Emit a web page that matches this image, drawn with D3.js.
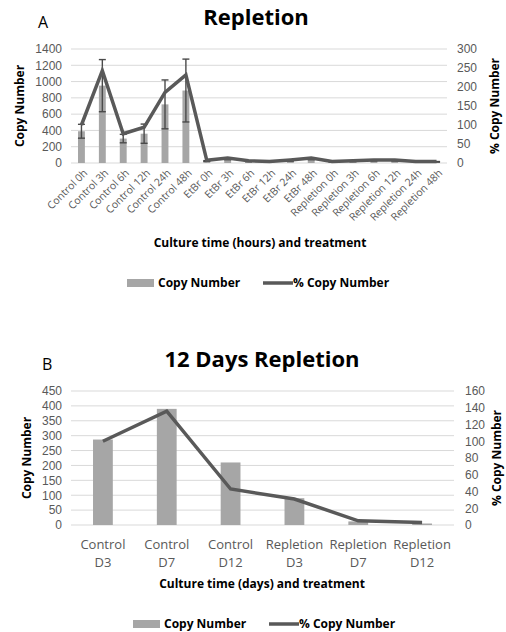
<!DOCTYPE html>
<html>
<head>
<meta charset="utf-8">
<script src="https://cdn.jsdelivr.net/npm/d3@7"></script>
<style>
  html, body { margin: 0; padding: 0; background: #fff; }
  svg { display: block; font-family: "Open Sans", "DejaVu Sans", sans-serif; }
</style>
</head>
<body>
<svg id="chart" width="506" height="632"></svg>
<script>
// Panel A: copy number over hours of culture
const hourCategories = ["Control 0h", "Control 3h", "Control 6h", "Control 12h", "Control 24h", "Control 48h",
  "EtBr 0h", "EtBr 3h", "EtBr 6h", "EtBr 12h", "EtBr 24h", "EtBr 48h",
  "Repletion 0h", "Repletion 3h", "Repletion 6h", "Repletion 12h", "Repletion 24h", "Repletion 48h"];
const hourCopyNumber = [390, 950, 300, 360, 720, 890, 25, 50, 22, 15, 30, 50, 15, 22, 30, 30, 15, 15];
const hourCopyError = [85, 320, 52, 118, 300, 386, 4, 10, 4, 3, 8, 10, 3, 4, 5, 5, 3, 3];
const hourPercent = [100, 243, 77, 94, 186, 232, 7, 13, 6, 4, 8, 13, 4, 6, 8, 8, 4, 4];
const hourLeftTicks = [0, 200, 400, 600, 800, 1000, 1200, 1400];
const hourRightTicks = [0, 50, 100, 150, 200, 250, 300];

// Panel B: copy number over 12 days
const dayCategories = [["Control", "D3"], ["Control", "D7"], ["Control", "D12"],
  ["Repletion", "D3"], ["Repletion", "D7"], ["Repletion", "D12"]];
const dayCopyNumber = [287, 390, 210, 90, 12, 5];
const dayPercent = [100, 136, 43, 31, 5, 3];
const dayLeftTicks = [0, 50, 100, 150, 200, 250, 300, 350, 400, 450];
const dayRightTicks = [0, 20, 40, 60, 80, 100, 120, 140, 160];

const BAR = "#a6a6a6", LINE = "#595959", GRID = "#d9d9d9", TICK = "#595959";
const svg = d3.select("#chart");
const plain = d3.format("d");

function panel(cfg) {
  const g = svg.append("g");
  const keys = cfg.categories.map((c, i) => i);
  const x = d3.scaleBand().domain(keys).range([cfg.left, cfg.right])
    .paddingInner(cfg.padInner).paddingOuter(cfg.padInner / 2);
  const cx = i => x(i) + x.bandwidth() / 2;
  const yL = d3.scaleLinear().domain([0, cfg.leftMax]).range([cfg.bottom, cfg.top]);
  const yR = d3.scaleLinear().domain([0, cfg.rightMax]).range([cfg.bottom, cfg.top]);

  // gridlines
  g.append("g").selectAll("line").data(cfg.leftTicks).join("line")
    .attr("x1", cfg.left).attr("x2", cfg.right)
    .attr("y1", d => yL(d)).attr("y2", d => yL(d))
    .attr("stroke", GRID).attr("stroke-width", 1);

  // left axis labels
  const axL = g.append("g").attr("transform", `translate(${cfg.left - 9},0)`)
    .call(d3.axisLeft(yL).tickValues(cfg.leftTicks).tickFormat(plain).tickSize(0).tickPadding(0));
  axL.select(".domain").remove();
  axL.selectAll("text").attr("fill", TICK).attr("font-size", cfg.tickSize).attr("font-family", null);

  // right axis labels
  const axR = g.append("g").attr("transform", `translate(${cfg.rightLabelX},0)`)
    .call(d3.axisRight(yR).tickValues(cfg.rightTicks).tickFormat(plain).tickSize(0).tickPadding(0));
  axR.select(".domain").remove();
  axR.selectAll("text").attr("fill", TICK).attr("font-size", cfg.tickSize).attr("font-family", null);

  // bars
  g.append("g").selectAll("rect").data(cfg.bars).join("rect")
    .attr("x", (d, i) => x(i)).attr("width", x.bandwidth())
    .attr("y", d => yL(d)).attr("height", d => yL(0) - yL(d))
    .attr("fill", BAR);

  // error bars
  if (cfg.errors) {
    const eg = g.append("g").attr("stroke", "#4a4a4a").attr("stroke-width", 1.4);
    cfg.errors.forEach((e, i) => {
      const v = cfg.bars[i];
      const y1 = yL(v + e), y2 = yL(Math.max(0, v - e));
      eg.append("line").attr("x1", cx(i)).attr("x2", cx(i)).attr("y1", y1).attr("y2", y2);
      eg.append("line").attr("x1", cx(i) - 3.5).attr("x2", cx(i) + 3.5).attr("y1", y1).attr("y2", y1);
      eg.append("line").attr("x1", cx(i) - 3.5).attr("x2", cx(i) + 3.5).attr("y1", y2).attr("y2", y2);
    });
  }

  // percentage line
  const line = d3.line().x((d, i) => cx(i)).y(d => yR(d));
  g.append("path").datum(cfg.line).attr("d", line)
    .attr("fill", "none").attr("stroke", LINE).attr("stroke-width", 3.5)
    .attr("stroke-linejoin", "miter");

  // category labels
  if (cfg.rotate) {
    g.append("g").selectAll("text").data(cfg.categories).join("text")
      .attr("transform", (d, i) => `translate(${cx(i) + 4},${cfg.bottom + 8}) rotate(-45)`)
      .attr("text-anchor", "end").attr("dy", "0.35em")
      .attr("font-size", cfg.catSize).attr("fill", TICK).text(d => d);
  } else {
    const t = g.append("g").selectAll("text").data(cfg.categories).join("text")
      .attr("x", (d, i) => cx(i)).attr("y", cfg.bottom + 24)
      .attr("text-anchor", "middle").attr("font-size", cfg.catSize).attr("fill", TICK);
    t.append("tspan").attr("x", (d, i) => cx(i)).text(d => d[0]);
    t.append("tspan").attr("x", (d, i) => cx(i)).attr("dy", 18).text(d => d[1]);
  }

  // titles
  g.append("text").attr("x", cfg.titleX).attr("y", cfg.titleY).attr("text-anchor", "middle")
    .attr("font-size", 22).attr("font-weight", 700).attr("fill", "#000").text(cfg.title);
  g.append("text").attr("x", cfg.letterX).attr("y", cfg.letterY)
    .attr("font-size", 16).attr("fill", "#000").text(cfg.letter);
  g.append("text").attr("transform", `translate(${cfg.yTitleLX},${(cfg.top + cfg.bottom) / 2}) rotate(-90)`)
    .attr("text-anchor", "middle").attr("font-size", 12).attr("font-weight", 700).text("Copy Number");
  g.append("text").attr("transform", `translate(${cfg.yTitleRX},${(cfg.top + cfg.bottom) / 2}) rotate(-90)`)
    .attr("text-anchor", "middle").attr("font-size", 12).attr("font-weight", 700).text("% Copy Number");
  g.append("text").attr("x", cfg.xTitleX).attr("y", cfg.xTitleY).attr("text-anchor", "middle")
    .attr("font-size", 12).attr("font-weight", 700).text(cfg.xTitle);

  // legend
  const lg = g.append("g").attr("transform", `translate(${cfg.legendX},${cfg.legendY})`);
  lg.append("rect").attr("x", 0).attr("y", -4).attr("width", 27).attr("height", 8).attr("fill", BAR);
  lg.append("text").attr("x", 31).attr("y", 0).attr("dy", "0.35em")
    .attr("font-size", 12).attr("font-weight", 700).text("Copy Number");
  lg.append("line").attr("x1", 136).attr("x2", 166).attr("y1", 0).attr("y2", 0)
    .attr("stroke", LINE).attr("stroke-width", 3.5);
  lg.append("text").attr("x", 166).attr("y", 0).attr("dy", "0.35em")
    .attr("font-size", 12).attr("font-weight", 700).text("% Copy Number");
}

panel({
  categories: hourCategories, bars: hourCopyNumber, errors: hourCopyError, line: hourPercent,
  leftTicks: hourLeftTicks, rightTicks: hourRightTicks, leftMax: 1400, rightMax: 300,
  left: 71, right: 447, top: 49, bottom: 163, padInner: 0.67, rightLabelX: 457,
  tickSize: 12, catSize: 10.5, rotate: true,
  title: "Repletion", titleX: 256, titleY: 25, letter: "A", letterX: 38, letterY: 28,
  yTitleLX: 24, yTitleRX: 499, xTitle: "Culture time (hours) and treatment", xTitleX: 260, xTitleY: 247,
  legendX: 127, legendY: 283
});

panel({
  categories: dayCategories, bars: dayCopyNumber, errors: null, line: dayPercent,
  leftTicks: dayLeftTicks, rightTicks: dayRightTicks, leftMax: 450, rightMax: 160,
  left: 71, right: 454, top: 391, bottom: 525, padInner: 0.69, rightLabelX: 465,
  tickSize: 12, catSize: 13, rotate: false,
  title: "12 Days Repletion", titleX: 262, titleY: 367, letter: "B", letterX: 42, letterY: 370,
  yTitleLX: 31, yTitleRX: 501, xTitle: "Culture time (days) and treatment", xTitleX: 262, xTitleY: 588,
  legendX: 133, legendY: 624
});
</script>
</body>
</html>
